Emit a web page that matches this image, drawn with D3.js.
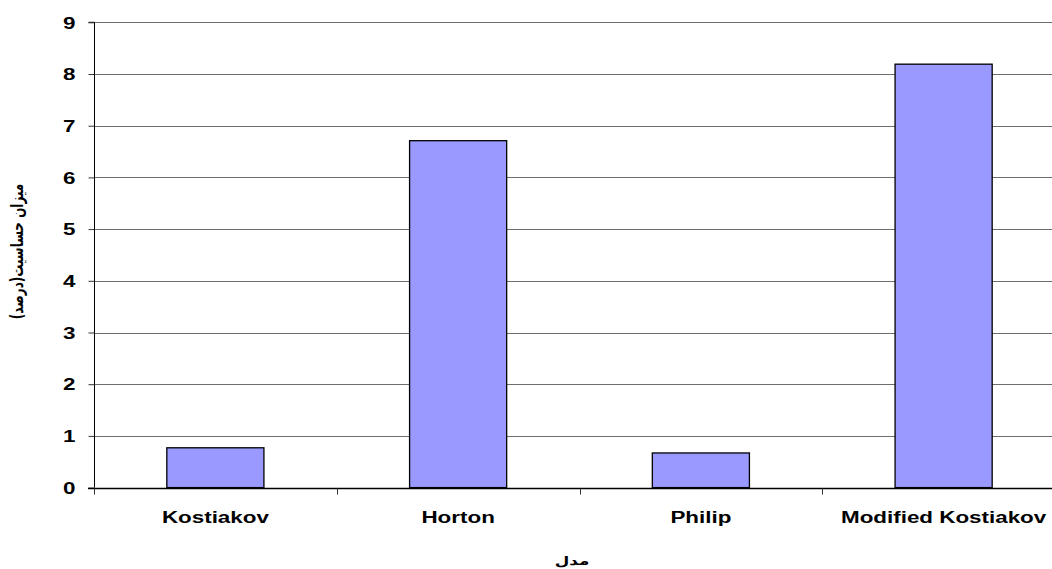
<!DOCTYPE html>
<html>
<head>
<meta charset="utf-8">
<script src="https://cdn.jsdelivr.net/npm/d3@7"></script>
<style>
  html, body { margin: 0; padding: 0; background: #fff; }
  svg { display: block; }
  text { font-family: "Liberation Sans", Arial, sans-serif; font-weight: bold; fill: #000; }
</style>
</head>
<body>
<svg id="chart" width="1052" height="569"></svg>
<script>
const categories = ["Kostiakov", "Horton", "Philip", "Modified Kostiakov"];
const values = [0.77, 6.71, 0.67, 8.19];
const yTicks = [0, 1, 2, 3, 4, 5, 6, 7, 8, 9];
const yTitle = "میزان حساسیت(درصد)";
const xTitle = "مدل";

const svg = d3.select("#chart");
const mLeft = 94, mRight = 1065, mTop = 22.3, mBottom = 487.6;
const SX = 1.4;

const x = d3.scaleBand().domain(categories).range([mLeft, mRight]).paddingInner(0.6).paddingOuter(0.3);
const y = d3.scaleLinear().domain([0, 9]).range([mBottom, mTop]);

// gridlines
svg.append("g").selectAll("line").data(yTicks.filter(d => d > 0)).join("line")
  .attr("x1", mLeft).attr("x2", mRight)
  .attr("y1", d => Math.round(y(d)) + 0.5).attr("y2", d => Math.round(y(d)) + 0.5)
  .attr("stroke", "#6e6e6e").attr("stroke-width", 1);

// bars
svg.append("g").selectAll("rect").data(values).join("rect")
  .attr("x", (d, i) => x(categories[i]))
  .attr("width", x.bandwidth())
  .attr("y", d => y(d))
  .attr("height", d => y(0) - y(d))
  .attr("fill", "#9999ff").attr("stroke", "#000").attr("stroke-width", 1.3);

// y axis
const yAxis = svg.append("g").attr("transform", `translate(${mLeft + 0.5},0)`)
  .call(d3.axisLeft(y).tickValues(yTicks).tickSize(6).tickFormat(d3.format("d")));
yAxis.attr("font-size", null).attr("font-family", null);
yAxis.select(".domain").attr("stroke", "#000").attr("d", `M-6,${y(9)}H0V${y(0)}`);
yAxis.selectAll(".tick line").attr("stroke", "#333");
yAxis.selectAll(".tick text")
  .attr("x", null).attr("dy", "0.36em")
  .attr("transform", "translate(-19,0) scale(" + SX + ",1)")
  .attr("text-anchor", "end")
  .style("font-size", "16px");

// x axis
const bounds = categories.map(c => x(c) - x.step() * x.paddingInner() / 2).concat([mRight]);
bounds[0] = mLeft;
const xg = svg.append("g").attr("transform", `translate(0,${Math.round(mBottom) + 0.5})`);
xg.append("line").attr("x1", mLeft - 6).attr("x2", mRight).attr("stroke", "#000").attr("stroke-width", 1.3);
xg.selectAll(".tk").data(bounds).join("line").attr("class", "tk")
  .attr("x1", d => Math.round(d) + 0.5).attr("x2", d => Math.round(d) + 0.5)
  .attr("y1", 0).attr("y2", 6).attr("stroke", "#333");
xg.selectAll(".lbl").data(categories).join("text").attr("class", "lbl")
  .attr("transform", d => `translate(${x(d) + x.bandwidth() / 2},${34}) scale(${SX},1)`)
  .attr("text-anchor", "middle")
  .style("font-size", "16px")
  .text(d => d);

// axis titles
svg.append("text")
  .attr("transform", `translate(23,251.5) rotate(-90) scale(1,${SX})`)
  .attr("text-anchor", "middle")
  .style("font-size", "12px")
  .style("font-family", "'DejaVu Sans', sans-serif")
  .text(yTitle);

svg.append("text")
  .attr("transform", `translate(572,565) scale(${SX},1)`)
  .attr("text-anchor", "middle")
  .style("font-size", "12px")
  .style("font-family", "'DejaVu Sans', sans-serif")
  .text(xTitle);
</script>
</body>
</html>
